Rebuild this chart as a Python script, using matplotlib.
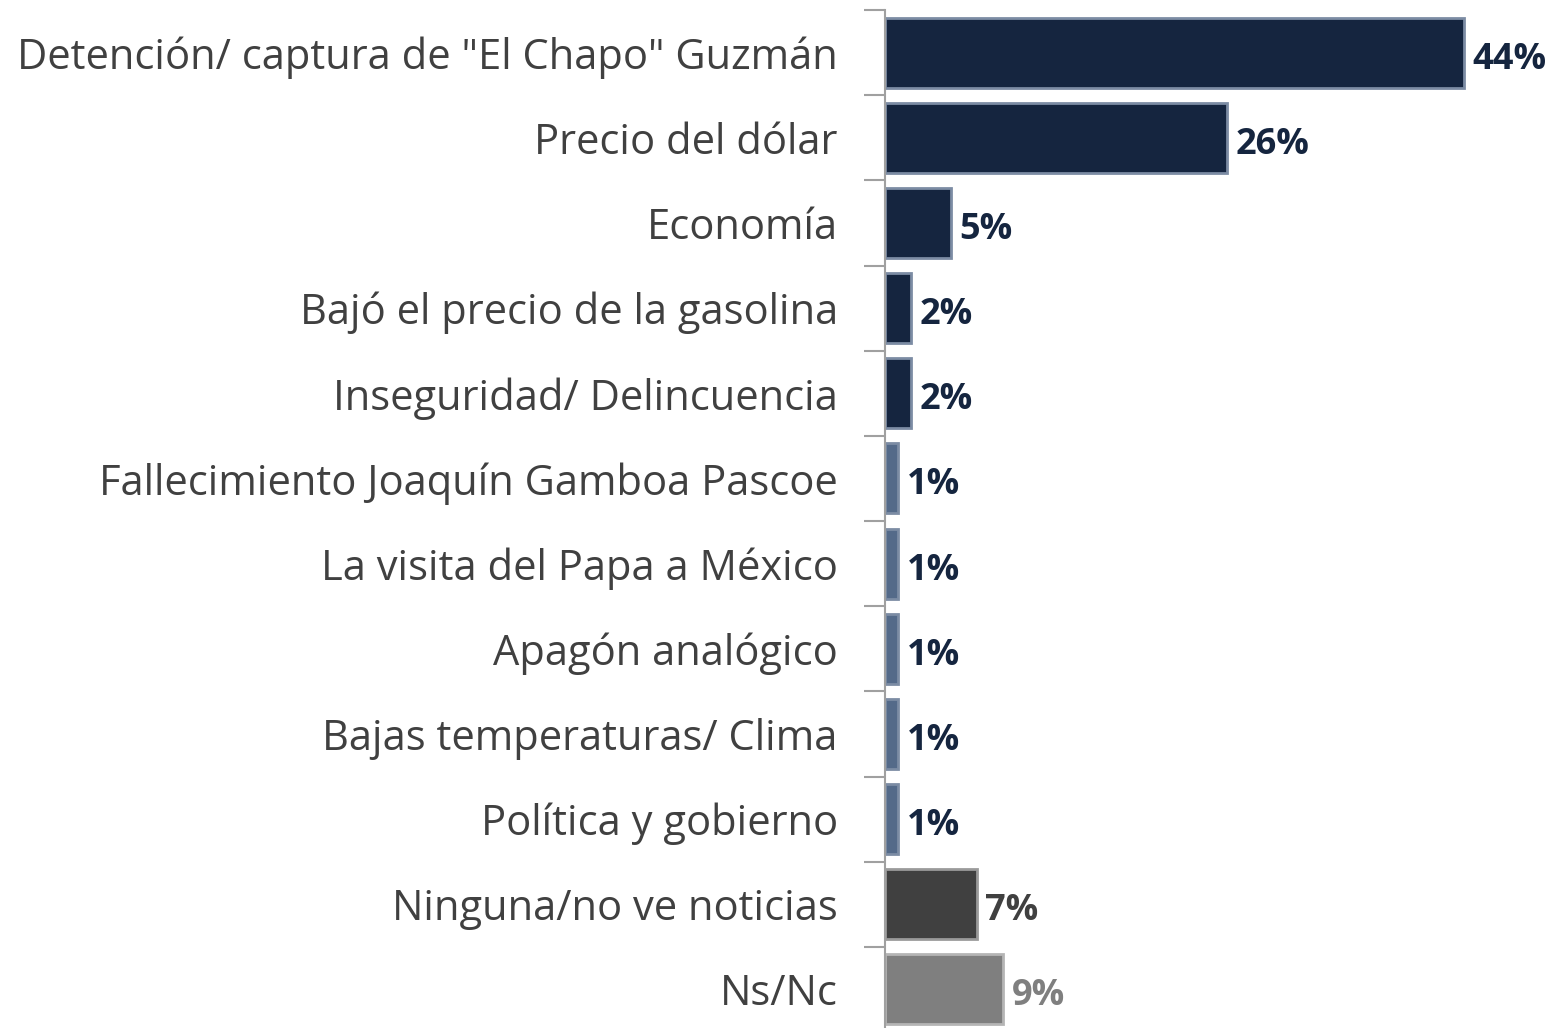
import matplotlib
matplotlib.use("Agg")
import matplotlib.pyplot as plt
import numpy as np

# data
categorias = ['Detención/ captura de "El Chapo" Guzmán', 'Precio del dólar', 'Economía',
              'Bajó el precio de la gasolina', 'Inseguridad/ Delincuencia',
              'Fallecimiento Joaquín Gamboa Pascoe', 'La visita del Papa a México',
              'Apagón analógico', 'Bajas temperaturas/ Clima', 'Política y gobierno',
              'Ninguna/no ve noticias', 'Ns/Nc']
valores = [44, 26, 5, 2, 2, 1, 1, 1, 1, 1, 7, 9]
etiquetas = ['44%', '26%', '5%', '2%', '2%', '1%', '1%', '1%', '1%', '1%', '7%', '9%']

navy = '#15253F'
colores = [navy] * 5 + ['#546A89'] * 5 + ['#404040', '#7F7F7F']
bordes = ['#7C8CA4'] * 10 + ['#9A9A9A', '#B5B5B5']
colores_texto = [navy] * 10 + ['#404040', '#7F7F7F']

plt.rcParams['font.family'] = ['Open Sans', 'DejaVu Sans']

fig = plt.figure(figsize=(15.47, 10.28), dpi=100)
ax = fig.add_axes([885 / 1547, -4 / 1028, 1 - 885 / 1547 - 4 / 1547, 1022 / 1028])

y = np.arange(len(categorias))
ax.barh(y, valores, height=0.82, color=colores, edgecolor=bordes, linewidth=2.0)

for yi, v, t, c in zip(y, valores, etiquetas, colores_texto):
    ax.annotate(t, (v, yi), xytext=(6, -5), textcoords='offset points',
                ha='left', va='center', fontsize=26, fontweight='bold', color=c)

ax.set_xlim(0, 50)
ax.set_ylim(len(categorias) - 0.5, -0.5)

# category labels on the left, tick marks between categories
ax.set_yticks(y)
ax.set_yticklabels(categorias, fontsize=30, color='#404040')
ax.tick_params(axis='y', which='major', length=0, pad=34)
ax.set_yticks(np.arange(-0.5, len(categorias)), minor=True)
ax.tick_params(axis='y', which='minor', length=15, width=1.5, color='#A0A0A0')
ax.set_xticks([])

for s in ['top', 'right', 'bottom']:
    ax.spines[s].set_visible(False)
ax.spines['left'].set_color('#A0A0A0')
ax.spines['left'].set_linewidth(1.5)

fig.savefig('out.png', dpi=100)
